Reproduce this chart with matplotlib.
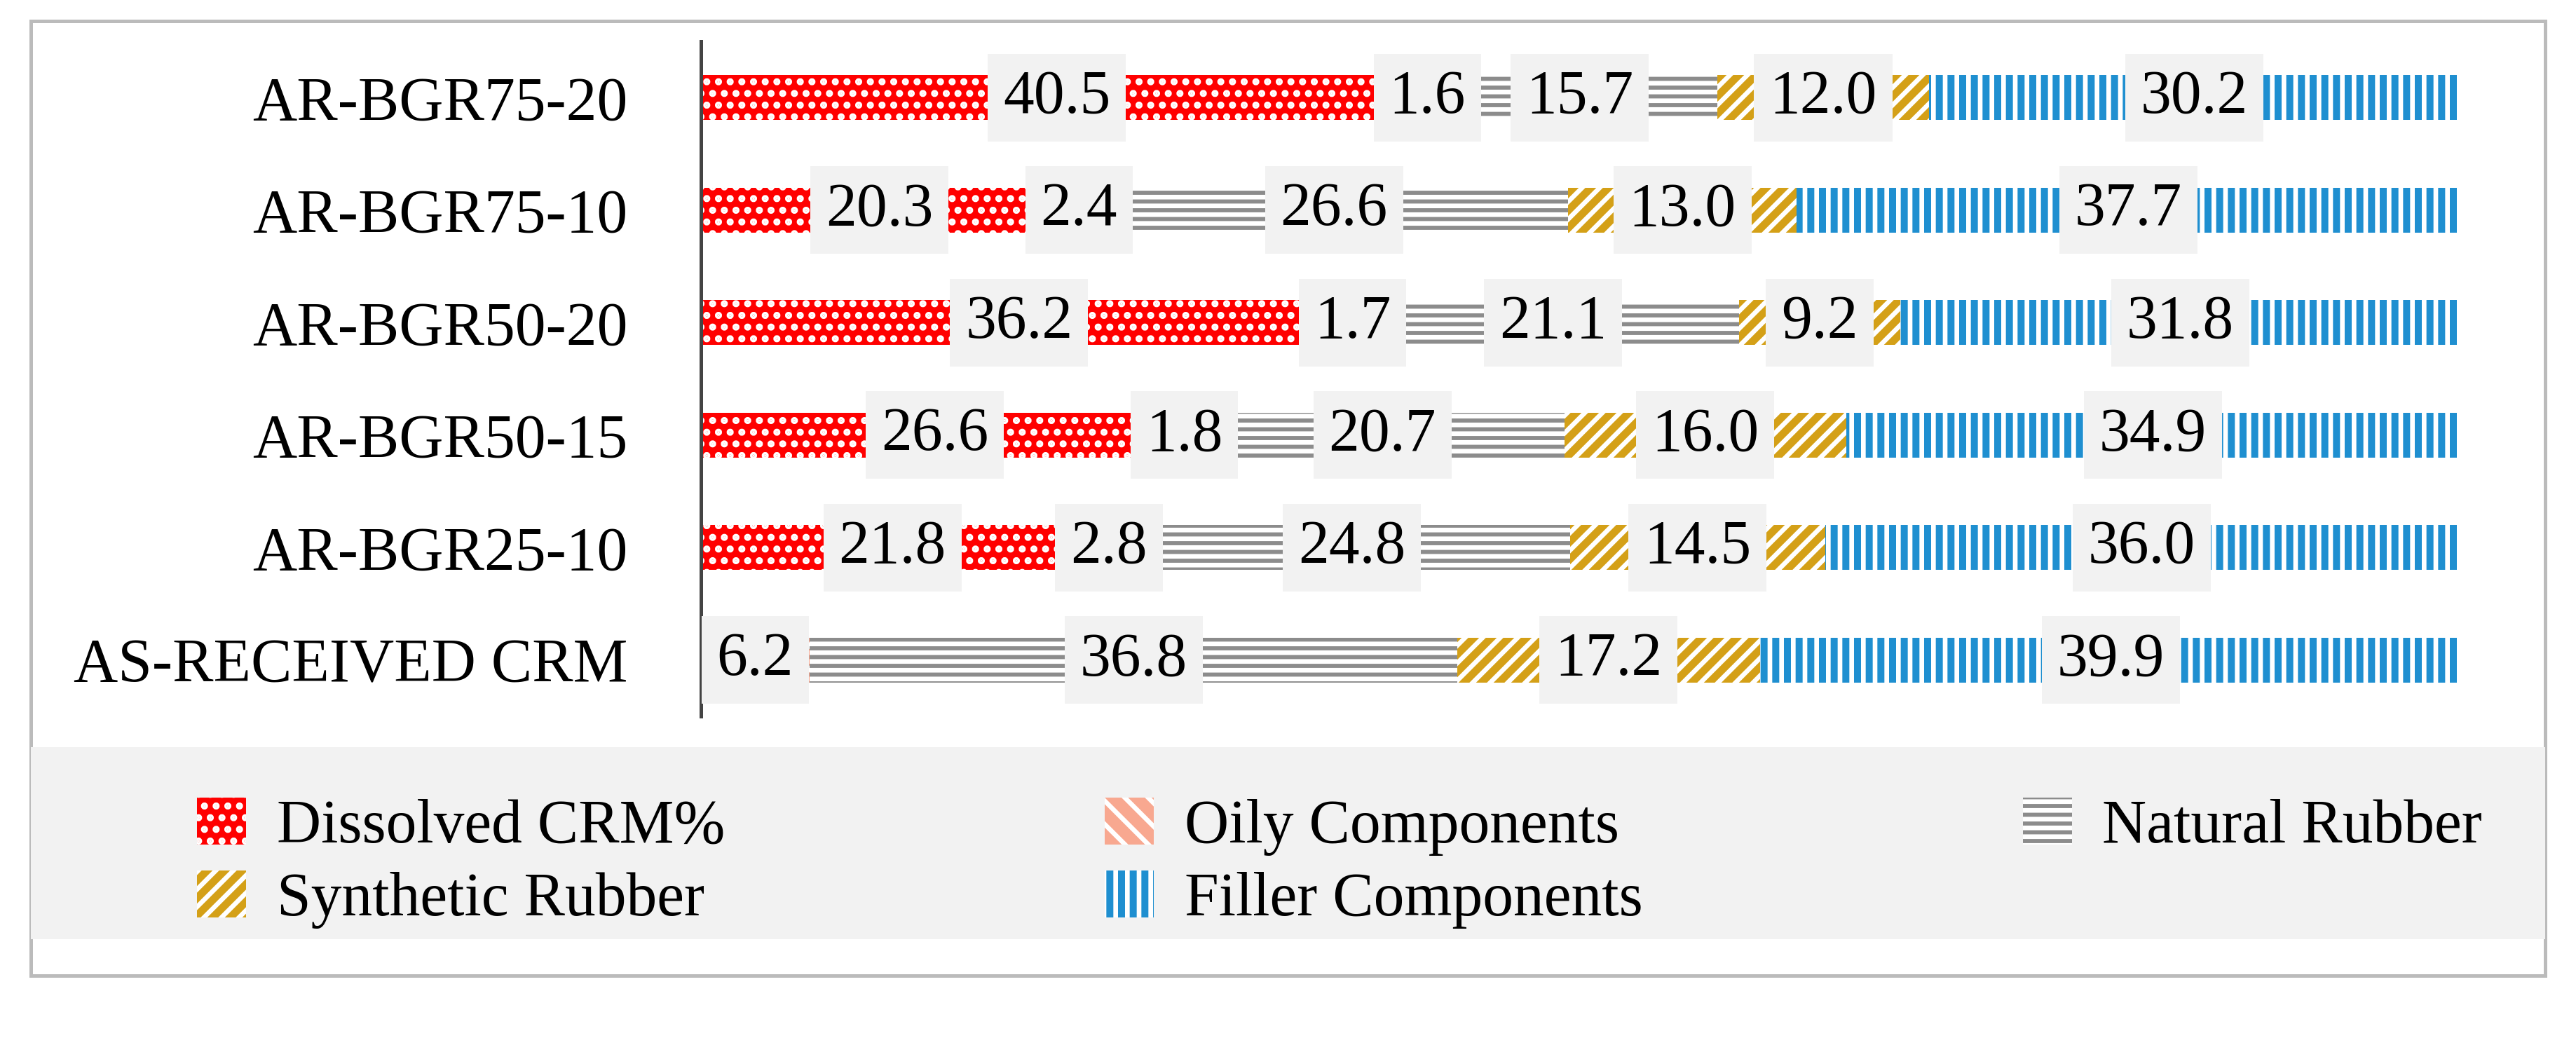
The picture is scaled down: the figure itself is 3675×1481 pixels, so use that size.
import matplotlib
matplotlib.use("Agg")
import matplotlib.pyplot as plt
from matplotlib.patches import Rectangle

categories = ["AR-BGR75-20", "AR-BGR75-10", "AR-BGR50-20", "AR-BGR50-15", "AR-BGR25-10", "AS-RECEIVED CRM"]
dissolved = [40.5, 20.3, 36.2, 26.6, 21.8, 0.0]
oily = [1.6, 2.4, 1.7, 1.8, 2.8, 6.2]
natural = [15.7, 26.6, 21.1, 20.7, 24.8, 36.8]
synthetic = [12.0, 13.0, 9.2, 16.0, 14.5, 17.2]
filler = [30.2, 37.7, 31.8, 34.9, 36.0, 39.9]
series_names = ["Dissolved CRM%", "Oily Components", "Natural Rubber", "Synthetic Rubber", "Filler Components"]

plt.rcParams['font.family'] = ['Liberation Serif', 'DejaVu Serif']
plt.rcParams['hatch.linewidth'] = 1.6
fig = plt.figure(figsize=(12.25, 4.937), dpi=300)
fig.patches.append(Rectangle((0.012, 0.06), 0.976, 0.92, transform=fig.transFigure,
                             fill=False, edgecolor='#bbbbbb', lw=1.2))
fig.patches.append(Rectangle((0.012, 0.095), 0.976, 0.185, transform=fig.transFigure,
                             facecolor='#f2f2f2', edgecolor='none'))
ax = fig.add_axes([0.272, 0.31, 0.683, 0.65])
styles = [
    dict(color='#ff0000', hatch='...'),
    dict(color='#f8a890', hatch='\\\\\\'),
    dict(color='#8c8c8c', hatch='----'),
    dict(color='#d4a017', hatch='////'),
    dict(color='#1f8fd0', hatch='|||'),
]
data = [dissolved, oily, natural, synthetic, filler]
y = list(range(len(categories)))[::-1]
left = [0.0] * len(categories)
handles = []
for name, vals, st in zip(series_names, data, styles):
    b = ax.barh(y, vals, left=left, height=0.40, color=st['color'], hatch=st['hatch'],
                edgecolor='white', linewidth=0, label=name)
    handles.append(b)
    for yi, l, v in zip(y, left, vals):
        if v > 0:
            ax.text(l + v / 2, yi, f"{v:.1f}", ha='center', va='center', fontsize=21,
                    bbox=dict(boxstyle='square,pad=0.25', facecolor='#f2f2f2', edgecolor='none'))
    left = [a + b_ for a, b_ in zip(left, vals)]
ax.set_xlim(0, 100)
ax.set_ylim(-0.5, len(categories) - 0.5)
ax.set_yticks(y)
ax.set_yticklabels(categories, fontsize=21)
ax.tick_params(axis='y', length=0, pad=25)
ax.set_xticks([])
for s in ['top', 'right', 'bottom']:
    ax.spines[s].set_visible(False)
ax.spines['left'].set_color('#444444')
ax.spines['left'].set_linewidth(1.2)
order = [0, 3, 1, 4, 2]
fig.legend(handles=[handles[i] for i in order], loc='upper left',
           bbox_to_anchor=(0.055, 0.285, 0.93, 0.0),
           mode='expand', ncol=3, frameon=False, fontsize=21, handlelength=0.8,
           handleheight=0.8, handletextpad=0.5, labelspacing=0.25)
fig.savefig("out.png", dpi=300)
